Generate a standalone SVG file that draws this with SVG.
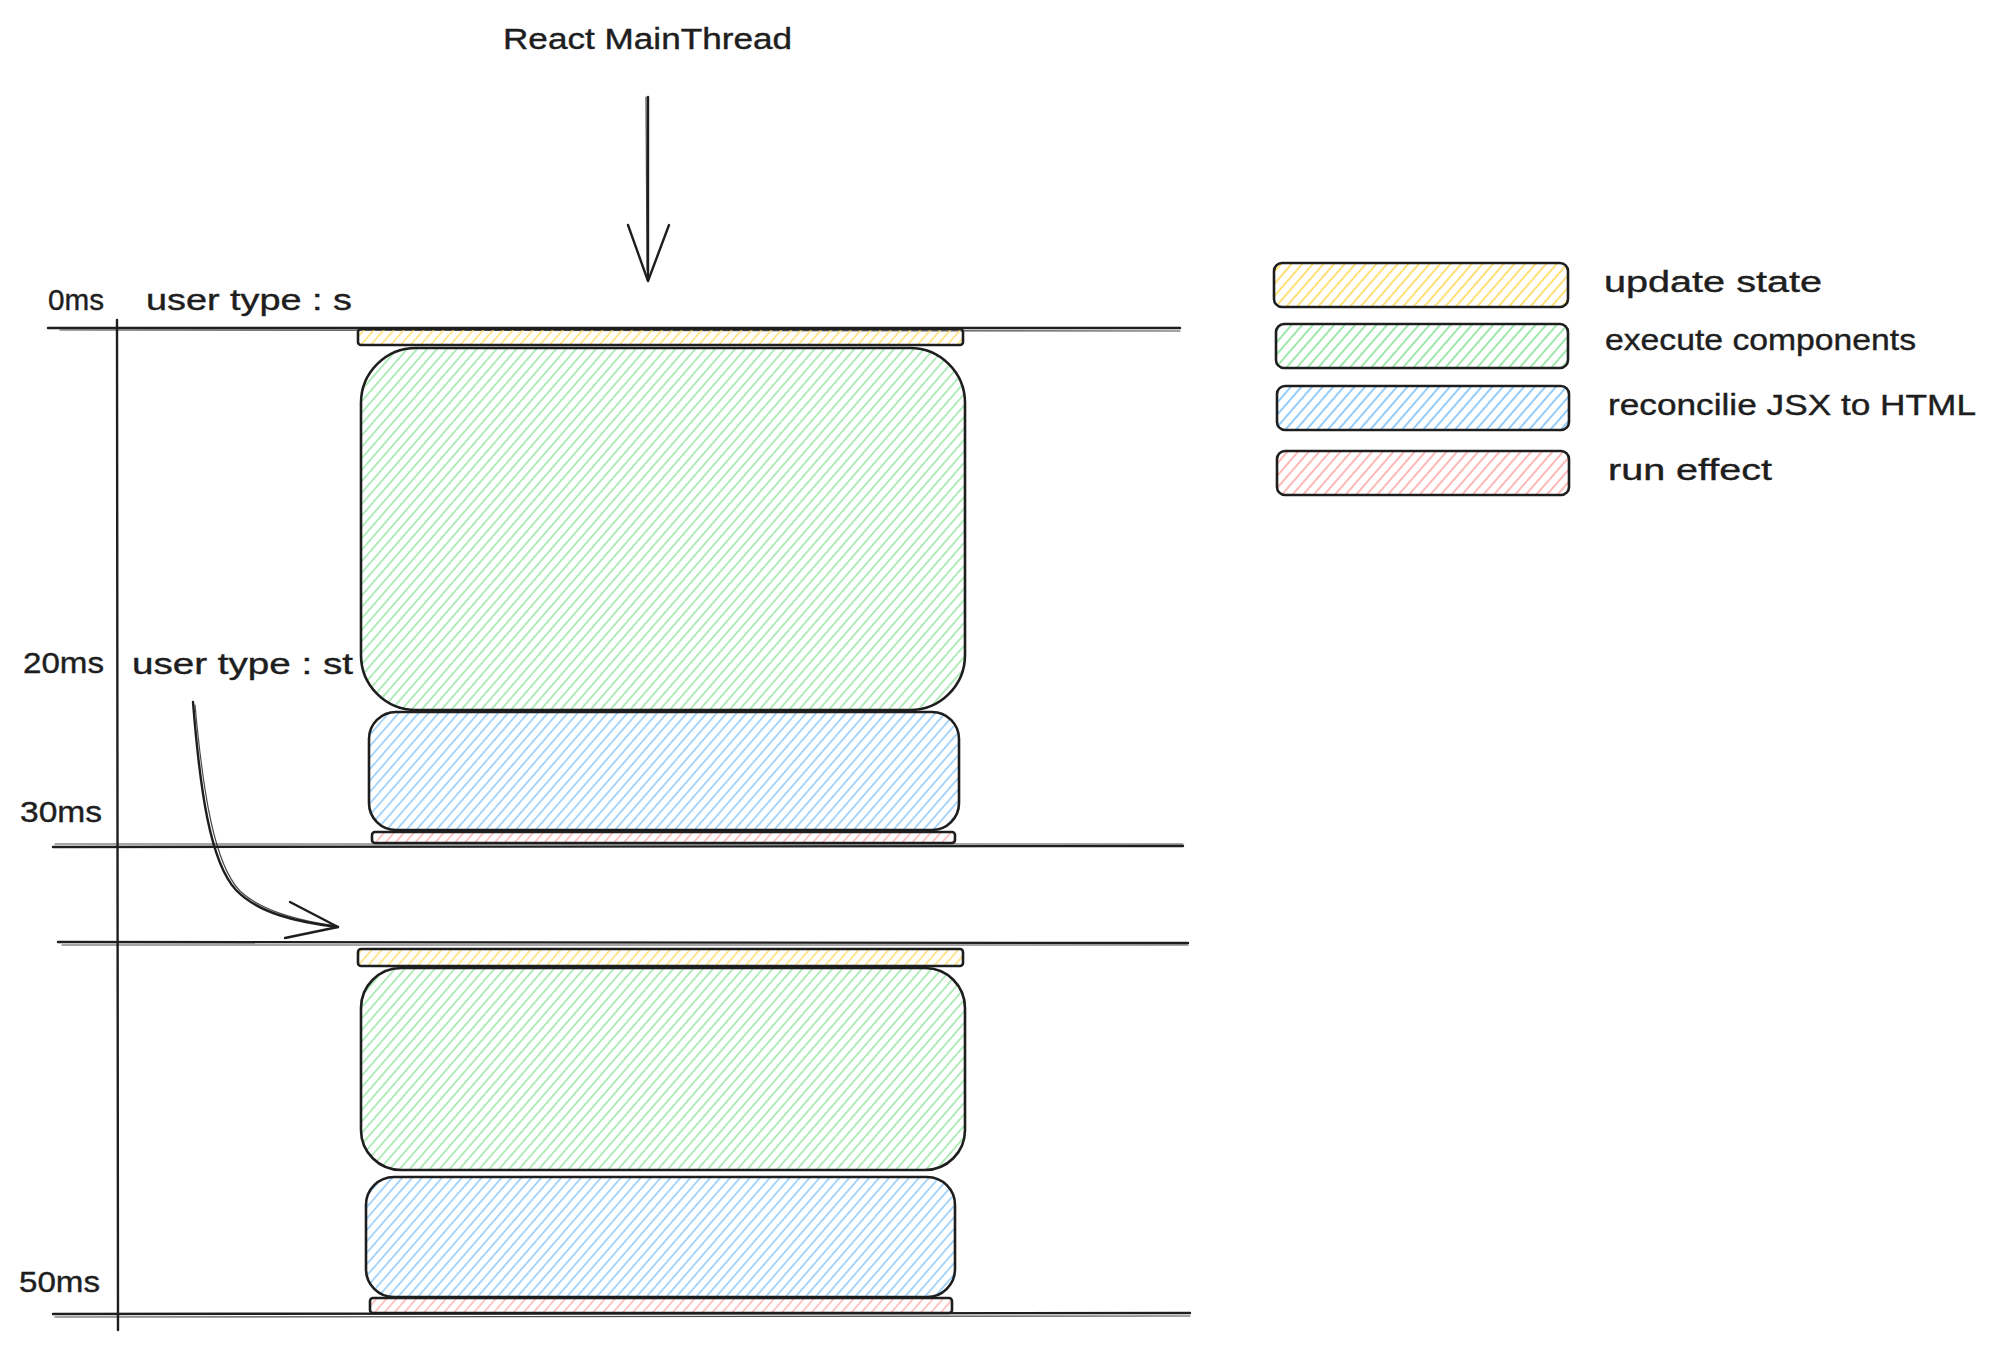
<svg xmlns="http://www.w3.org/2000/svg" width="1991" height="1349" viewBox="0 0 1991 1349">
<defs>
<pattern id="hy" width="7.5" height="7.5" patternUnits="userSpaceOnUse" patternTransform="rotate(41)"><line x1="3.7" y1="0" x2="3.7" y2="7.5" stroke="#ffe077" stroke-width="1.6"/></pattern>
<pattern id="hg" width="7.5" height="7.5" patternUnits="userSpaceOnUse" patternTransform="rotate(41)"><line x1="3.7" y1="0" x2="3.7" y2="7.5" stroke="#9fe8ab" stroke-width="1.6"/></pattern>
<pattern id="hb" width="7.5" height="7.5" patternUnits="userSpaceOnUse" patternTransform="rotate(41)"><line x1="3.7" y1="0" x2="3.7" y2="7.5" stroke="#94cdfb" stroke-width="1.6"/></pattern>
<pattern id="hr" width="7.5" height="7.5" patternUnits="userSpaceOnUse" patternTransform="rotate(41)"><line x1="3.7" y1="0" x2="3.7" y2="7.5" stroke="#ffb8b8" stroke-width="1.6"/></pattern>
<pattern id="ly" width="8" height="8" patternUnits="userSpaceOnUse" patternTransform="rotate(41)"><line x1="4" y1="0" x2="4" y2="8" stroke="#ffe077" stroke-width="2"/></pattern>
<pattern id="lg" width="8" height="8" patternUnits="userSpaceOnUse" patternTransform="rotate(41)"><line x1="4" y1="0" x2="4" y2="8" stroke="#9fe8ab" stroke-width="2"/></pattern>
<pattern id="lb" width="8" height="8" patternUnits="userSpaceOnUse" patternTransform="rotate(41)"><line x1="4" y1="0" x2="4" y2="8" stroke="#94cdfb" stroke-width="2"/></pattern>
<pattern id="lr" width="8" height="8" patternUnits="userSpaceOnUse" patternTransform="rotate(41)"><line x1="4" y1="0" x2="4" y2="8" stroke="#ffb8b8" stroke-width="2"/></pattern>
</defs>
<style>
.t{font-family:"Liberation Sans",Arial,sans-serif;fill:#1e1e1e;stroke:#1e1e1e;stroke-width:0.4;}
.box{stroke:#1e1e1e;stroke-width:2.6;}
.ln{stroke:#1e1e1e;stroke-width:2.4;fill:none;stroke-linecap:round;stroke-linejoin:round;}
.ln2{stroke:#1e1e1e;stroke-width:1.2;fill:none;stroke-linecap:round;opacity:0.8;}
.y{fill:url(#hy);} .g{fill:url(#hg);} .b{fill:url(#hb);} .r{fill:url(#hr);}
.ly{fill:url(#ly);} .lg{fill:url(#lg);} .lb{fill:url(#lb);} .lr{fill:url(#lr);}
</style>
<rect width="1991" height="1349" fill="#ffffff"/>

<g id="title">
<text class="t" x="503" y="49" font-size="29" textLength="289" lengthAdjust="spacingAndGlyphs">React MainThread</text>
</g>

<g id="timeline">
<line class="ln" x1="48" y1="328" x2="1180" y2="328"/>
<line class="ln2" x1="60" y1="330" x2="1180" y2="331"/>
<line class="ln" x1="117" y1="320" x2="118" y2="1330"/>
<line class="ln" x1="53" y1="847" x2="1183" y2="846"/>
<line class="ln2" x1="55" y1="844" x2="1183" y2="844"/>
<line class="ln" x1="58" y1="942" x2="1188" y2="943"/>
<line class="ln2" x1="62" y1="945" x2="1188" y2="945"/>
<line class="ln" x1="53" y1="1314" x2="1190" y2="1313"/>
<line class="ln2" x1="55" y1="1317" x2="1190" y2="1316"/>
</g>

<g id="labels">
<text class="t" x="48" y="310" font-size="30" textLength="56" lengthAdjust="spacingAndGlyphs">0ms</text>
<text class="t" x="146" y="310" font-size="30" textLength="206" lengthAdjust="spacingAndGlyphs">user type : s</text>
<text class="t" x="23" y="673" font-size="30" textLength="81" lengthAdjust="spacingAndGlyphs">20ms</text>
<text class="t" x="132" y="674" font-size="30" textLength="221" lengthAdjust="spacingAndGlyphs">user type : st</text>
<text class="t" x="20" y="822" font-size="30" textLength="82" lengthAdjust="spacingAndGlyphs">30ms</text>
<text class="t" x="19" y="1292" font-size="30" textLength="81" lengthAdjust="spacingAndGlyphs">50ms</text>
</g>

<g id="render1">
<rect id="update1" class="box y" x="358" y="329" width="605" height="16" rx="3"/>
<rect id="execute1" class="box g" x="361" y="348" width="604" height="362" rx="55"/>
<rect id="reconcile1" class="box b" x="369" y="712" width="590" height="118" rx="27"/>
<rect id="effect1" class="box r" x="372" y="832" width="583" height="11" rx="3"/>
</g>

<g id="render2">
<rect id="update2" class="box y" x="358" y="949" width="605" height="17" rx="3"/>
<rect id="execute2" class="box g" x="361" y="968" width="604" height="202" rx="40"/>
<rect id="reconcile2" class="box b" x="366" y="1177" width="589" height="120" rx="28"/>
<rect id="effect2" class="box r" x="370" y="1298" width="582" height="15" rx="3"/>
</g>

<g id="legend">
<g id="legend-update">
<rect class="box ly" x="1274" y="263" width="294" height="44" rx="8"/>
<text class="t" x="1604" y="292" font-size="30" textLength="218" lengthAdjust="spacingAndGlyphs">update state</text>
</g>
<g id="legend-execute">
<rect class="box lg" x="1276" y="324" width="292" height="44" rx="8"/>
<text class="t" x="1605" y="350" font-size="30" textLength="311" lengthAdjust="spacingAndGlyphs">execute components</text>
</g>
<g id="legend-reconcile">
<rect class="box lb" x="1277" y="386" width="292" height="44" rx="8"/>
<text class="t" x="1608" y="415" font-size="30" textLength="368" lengthAdjust="spacingAndGlyphs">reconcilie JSX to HTML</text>
</g>
<g id="legend-effect">
<rect class="box lr" x="1277" y="451" width="292" height="44" rx="8"/>
<text class="t" x="1608" y="480" font-size="30" textLength="164" lengthAdjust="spacingAndGlyphs">run effect</text>
</g>
</g>

<g id="connectors">
<g id="arrow-main">
<path class="ln" d="M648 97 L648 280"/>
<path class="ln2" d="M646 97 L647 270"/>
<path class="ln" d="M628 225 L648 281 L669 225"/>
</g>
<g id="arrow-next">
<path class="ln" d="M193 702 C200 790 210 862 236 890 C258 913 296 922 338 927"/>
<path class="ln2" d="M195 705 C203 792 214 864 240 891 C262 912 300 921 336 926"/>
<path class="ln" d="M290 902 L338 927 L285 938"/>
</g>
</g>
</svg>
